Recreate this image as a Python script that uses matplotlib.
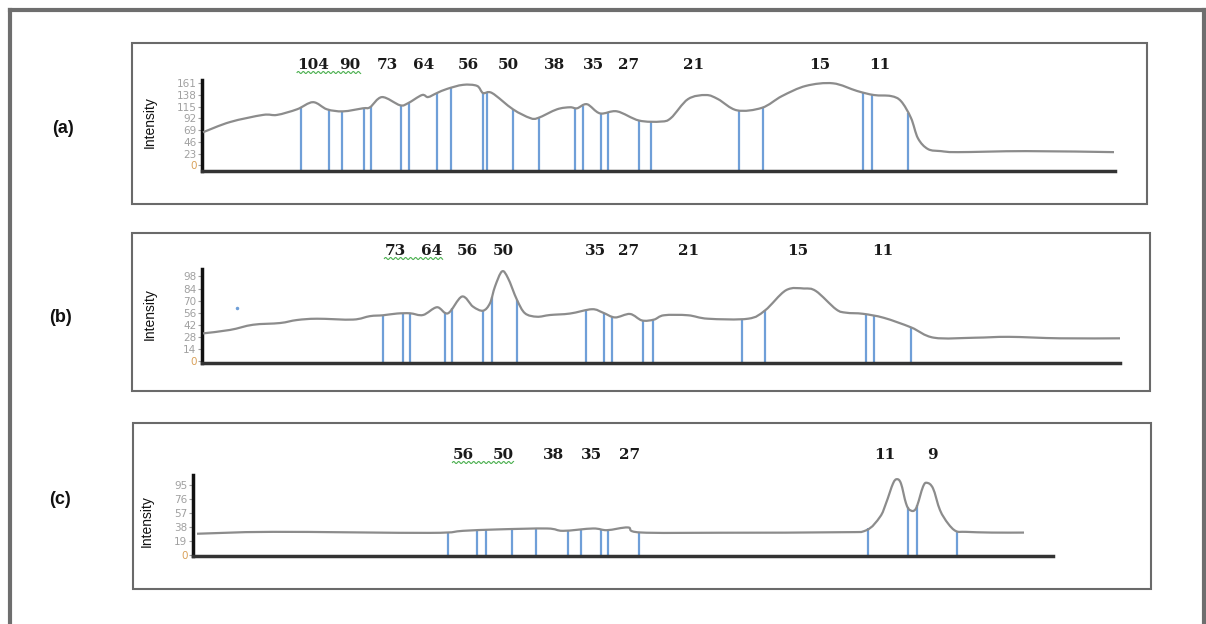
import matplotlib
matplotlib.use('Agg')
import matplotlib.pyplot as plt
import numpy as np
from matplotlib.lines import Line2D
from matplotlib.patches import Rectangle, PathPatch
from matplotlib.path import Path
from matplotlib.transforms import blended_transform_factory, IdentityTransform

W, H = 1206, 624

# ---- dados (x = distancia ao eixo, em px) ----
# painel (a)
xa = [1, 28, 61, 75, 95, 111, 125, 141, 161, 168, 180, 198, 206, 220, 226, 235, 245,
      261, 275, 281, 290, 311, 328, 336, 355, 368, 375, 385, 398, 415, 437, 459, 469,
      486, 504, 516, 535, 560, 580, 604, 631, 655, 672, 689, 699, 709, 716, 726, 739,
      756, 824, 912]
ya = [65, 85, 99, 99, 110, 124, 110, 106, 112, 114, 134, 118, 122, 138, 134, 142, 150,
      158, 156, 142, 142, 110, 93, 93, 110, 114, 112, 120, 102, 106, 88, 86, 93,
      130, 138, 130, 108, 113, 136, 156, 161, 146, 138, 136, 126, 93, 53, 32, 28,
      26, 28, 26]
marks_a = [99, 127, 140, 162, 169, 199, 207, 235, 249, 281, 285, 311, 337, 373, 381,
           399, 406, 437, 449, 537, 561, 661, 670, 706]
labels_a = ['104', '90', '73', '64', '56', '50', '38', '35', '27', '21', '15', '11']
labpos_a = [111, 148, 185, 222, 266, 306, 353, 391, 427, 492, 618, 678]
ticks_a = [0, 23, 46, 69, 92, 115, 138, 161]

# painel (b)
xb = [1, 28, 51, 78, 95, 115, 151, 168, 181, 195, 208, 221, 235, 246, 260, 271, 281,
      288, 293, 300, 306, 315, 323, 335, 348, 368, 390, 401, 413, 428, 440, 452, 462,
      486, 506, 546, 563, 584, 602, 614, 634, 644, 661, 682, 709, 732, 773, 807, 858, 918]
yb = [32, 36, 42, 44, 47.5, 49, 48, 52, 53, 55, 55.3, 53.3, 62.3, 55.3, 74.7, 63, 58.3,
      67, 86.3, 103.8, 96, 70.8, 55.3, 51.3, 53.3, 55, 60, 56, 50.5, 54.5, 47, 48, 53,
      53, 49, 49, 58.6, 82, 84, 81, 60, 56, 54.7, 50, 39, 27, 27, 28, 26.3, 26.3]
marks_b = [181, 201, 208, 243, 250, 281, 290, 315, 384, 402, 410, 441, 451, 540, 563,
           664, 672, 709]
labels_b = ['73', '64', '56', '50', '35', '27', '21', '15', '11']
labpos_b = [193, 230, 265, 301, 394, 427, 487, 596, 681]
ticks_b = [0, 14, 28, 42, 56, 70, 84, 98]
stray_b = (35, 61)

# painel (c)
xc = [4, 80, 237, 270, 304, 354, 370, 400, 414, 435, 447, 528, 647, 673, 687, 693,
      700, 704, 708, 713, 717, 723, 730, 734, 740, 747, 755, 763, 773, 799, 831]
yc = [28.4, 31, 29.6, 32.4, 34.3, 35.6, 32.4, 35.6, 33.3, 37, 30.2, 29.8, 30.5, 33,
      51.5, 70, 97, 103, 97, 70, 60.7, 63, 92.7, 98, 90.5, 60.7, 42.5, 32, 31, 30, 30]
marks_c = [255, 284, 293, 319, 343, 375, 388, 408, 415, 446, 675, 715, 724, 764]
labels_c = ['56', '50', '38', '35', '27', '11', '9']
labpos_c = [270, 310, 361, 399, 437, 692, 739]
ticks_c = [0, 19, 38, 57, 76, 95]


def fx(px):
    return px / W


def fy(py):
    return 1 - py / H


def curva_suave(x, y):
    # linha suavizada (catmull-rom em bezier cubica), como a linha do excel
    pts = np.column_stack([x, y])
    P = np.vstack([pts[0], pts, pts[-1]])
    verts = [pts[0]]
    codes = [Path.MOVETO]
    for i in range(1, len(P) - 2):
        p0, p1, p2, p3 = P[i - 1], P[i], P[i + 1], P[i + 2]
        verts += [p1 + (p2 - p0) / 6, p2 - (p3 - p1) / 6, p2]
        codes += [Path.CURVE4] * 3
    return Path(verts, codes)


fig = plt.figure(figsize=(W / 100, H / 100), dpi=100)

# moldura externa
frame = dict(color='#6e6e6e', lw=3, solid_capstyle='projecting')
fig.add_artist(Line2D([fx(10), fx(10)], [fy(10), fy(630)], **frame))
fig.add_artist(Line2D([fx(10), fx(1204)], [fy(10), fy(10)], **frame))
fig.add_artist(Line2D([fx(1204), fx(1204)], [fy(10), fy(630)], **frame))


def painel(box, rect, x, y, marks, ticks, ylim, xmax, labels, labpos, lab_y,
           tag, tag_xy, int_xy):
    l, t, r, b = box
    fig.add_artist(Rectangle((fx(l), fy(b)), fx(r - l), (b - t) / H, fill=False,
                             ec='#6a6a6a', lw=1.5))
    al, at, ar, ab = rect
    ax = fig.add_axes([fx(al), fy(ab), fx(ar - al), (ab - at) / H])
    x = np.array(x, float)
    y = np.array(y, float)
    alt = np.interp(marks, x, y)
    ax.vlines(marks, ylim[0], alt, color='#6f9fd8', lw=1.6, zorder=2)
    ax.add_patch(PathPatch(curva_suave(x, y), fill=False, ec='#8c8c8c', lw=1.6,
                           joinstyle='round', zorder=3))
    ax.set_xlim(0, xmax)
    ax.set_ylim(*ylim)
    ax.set_yticks(ticks)
    ax.set_xticks([])
    ax.tick_params(axis='y', length=3, width=0.8, colors='#a0a0a0', labelsize=7.5, pad=1)
    ax.get_yticklabels()[0].set_color('#d9a15a')
    for s in ['top', 'right']:
        ax.spines[s].set_visible(False)
    ax.spines['left'].set_color('#111111')
    ax.spines['left'].set_linewidth(2.5)
    ax.spines['bottom'].set_color('#333333')
    ax.spines['bottom'].set_linewidth(2.5)
    ax.patch.set_alpha(0)
    tr = blended_transform_factory(ax.transData, fig.transFigure)
    txts = []
    for lb, p in zip(labels, labpos):
        txts.append(ax.text(p, fy(lab_y), lb, transform=tr, ha='center', va='center',
                            fontsize=11, fontweight='bold', family='DejaVu Serif',
                            color='#1a1a1a'))
    fig.text(fx(tag_xy[0]), fy(tag_xy[1]), tag, ha='center', va='center', fontsize=13,
             fontweight='bold', family='Liberation Sans', color='#111111')
    fig.text(fx(int_xy[0]), fy(int_xy[1]), 'Intensity', ha='center', va='center',
             rotation=90, fontsize=10, family='Liberation Sans', color='#111111')
    return ax, txts


ax_a, t_a = painel((132, 43, 1147, 204), (202, 80, 1115, 171), xa, ya, marks_a, ticks_a,
                   (-11, 167.5), 913, labels_a, labpos_a, 65, '(a)', (63, 129), (150, 122))
ax_b, t_b = painel((132, 233, 1150, 391), (202, 269, 1120, 363), xb, yb, marks_b, ticks_b,
                   (-2.3, 106.6), 918, labels_b, labpos_b, 251, '(b)', (60, 317), (150, 314))
ax_c, t_c = painel((133, 423, 1151, 589), (193, 475, 1053, 556), xc, yc, marks_c, ticks_c,
                   (-2, 108.7), 860, labels_c, labpos_c, 455, '(c)', (60, 500), (147, 521))
ax_b.plot([stray_b[0]], [stray_b[1]], 'o', ms=1.5, color='#6f9fd8')

# sublinhado ondulado do corretor (verde) sob os dois primeiros rotulos
fig.canvas.draw()
rend = fig.canvas.get_renderer()
for txts in (t_a, t_b, t_c):
    b0 = txts[0].get_window_extent(rend)
    b1 = txts[1].get_window_extent(rend)
    xs = np.linspace(b0.x0, b1.x1, 120)
    ys = b0.y0 - 0.5 + 1.0 * np.sin(2 * np.pi * (xs - xs[0]) / 5.0)
    fig.add_artist(Line2D(xs, ys, transform=IdentityTransform(), color='#4cb050', lw=0.8))

fig.savefig('out.png', dpi=100)
